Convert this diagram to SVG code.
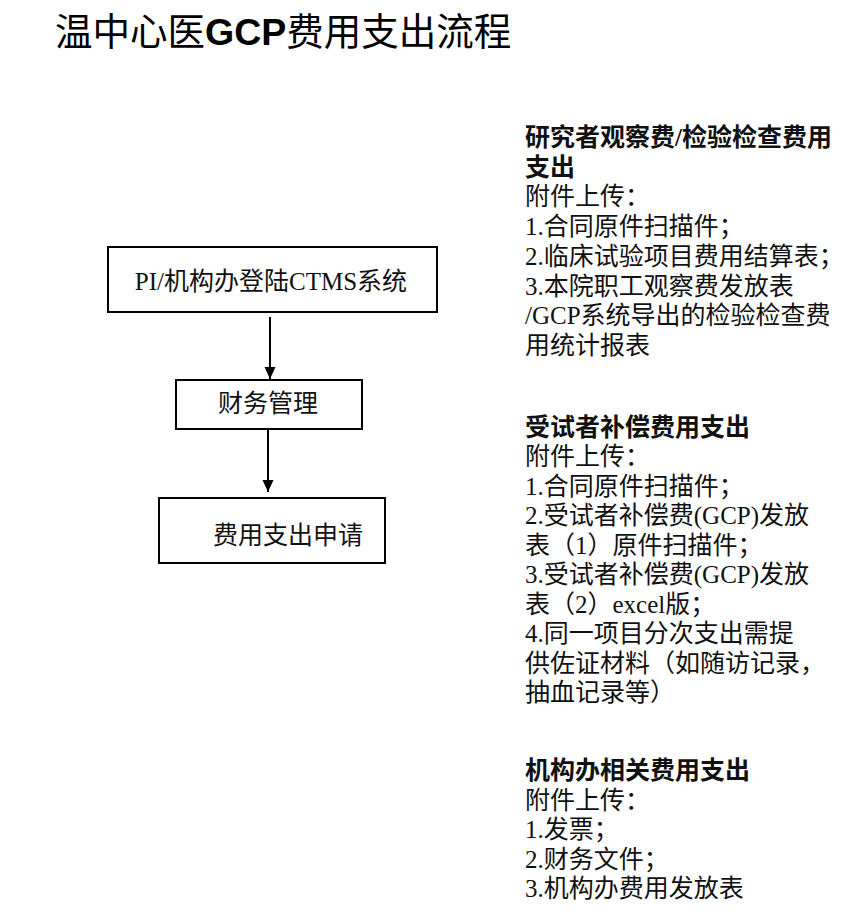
<svg xmlns="http://www.w3.org/2000/svg" width="849" height="914" viewBox="0 0 849 914">
<style>
.bg{fill:#fff}
.box{fill:#fff;stroke:#000;stroke-width:2}
.t{font-family:"Liberation Serif","Noto Sans CJK SC",serif;font-size:25px;fill:#111}
.h{font-weight:bold}
.title{font-family:"Liberation Sans","Noto Sans CJK SC",sans-serif;font-size:37.5px;fill:#000}
.edge{stroke:#000;stroke-width:2;fill:none}
</style>
<defs>
<marker id="a2" markerUnits="userSpaceOnUse" markerWidth="12" markerHeight="12" refX="12" refY="5.5" orient="auto" viewBox="0 0 12 11">
<path d="M0,0 L12,5.5 L0,11 Z" fill="#000"/>
</marker>
</defs>
<rect class="bg" x="0" y="0" width="849" height="914"/>
<text class="title" x="55" y="45">温中心医<tspan font-weight="bold">GCP</tspan>费用支出流程</text>

<g id="connectors">
<line class="edge" x1="270" y1="317" x2="270" y2="379" marker-end="url(#a2)"/>
<line class="edge" x1="268" y1="429" x2="268" y2="492" marker-end="url(#a2)"/>
</g>

<g id="node-login">
<rect class="box" x="108" y="247" width="329" height="65"/>
<text class="t" x="271" y="290" text-anchor="middle" font-size="26">PI/机构办登陆CTMS系统</text>
</g>
<g id="node-finance">
<rect class="box" x="176" y="380" width="186" height="49"/>
<text class="t" x="268" y="412" text-anchor="middle">财务管理</text>
</g>
<g id="node-apply">
<rect class="box" x="159" y="498" width="226" height="65"/>
<text class="t" x="213" y="544">费用支出申请</text>
</g>

<g id="note-observer">
<text class="t h" x="525" y="146">研究者观察费/检验检查费用</text>
<text class="t h" x="525" y="176">支出</text>
<text class="t" x="525" y="205">附件上传：</text>
<text class="t" x="525" y="235">1.合同原件扫描件；</text>
<text class="t" x="525" y="265">2.临床试验项目费用结算表；</text>
<text class="t" x="525" y="295">3.本院职工观察费发放表</text>
<text class="t" x="525" y="324">/GCP系统导出的检验检查费</text>
<text class="t" x="525" y="354">用统计报表</text>
</g>
<g id="note-subject">
<text class="t h" x="525" y="436">受试者补偿费用支出</text>
<text class="t" x="525" y="465">附件上传：</text>
<text class="t" x="525" y="495">1.合同原件扫描件；</text>
<text class="t" x="525" y="524">2.受试者补偿费(GCP)发放</text>
<text class="t" x="525" y="554">表（1）原件扫描件；</text>
<text class="t" x="525" y="583">3.受试者补偿费(GCP)发放</text>
<text class="t" x="525" y="613">表（2）excel版；</text>
<text class="t" x="525" y="642">4.同一项目分次支出需提</text>
<text class="t" x="525" y="672">供佐证材料（如随访记录，</text>
<text class="t" x="525" y="701">抽血记录等）</text>
</g>
<g id="note-office">
<text class="t h" x="525" y="779">机构办相关费用支出</text>
<text class="t" x="525" y="809">附件上传：</text>
<text class="t" x="525" y="838">1.发票；</text>
<text class="t" x="525" y="868">2.财务文件；</text>
<text class="t" x="525" y="897">3.机构办费用发放表</text>
</g>
</svg>
